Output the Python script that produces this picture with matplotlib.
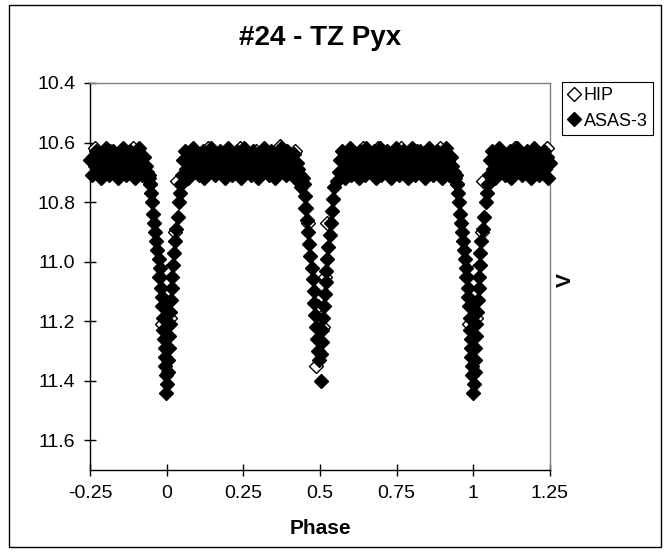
import numpy as np
import matplotlib.pyplot as plt
from matplotlib.patches import Rectangle

# TZ Pyx light curve, phases kept in 0..1, shown again at -0.25..0 and 1..1.25

hip_phase = [0.060, 0.085, 0.110, 0.135, 0.160, 0.190, 0.215, 0.240, 0.265, 0.290,
             0.320, 0.345, 0.370, 0.395, 0.420, 0.436, 0.565, 0.575, 0.590, 0.615,
             0.640, 0.665, 0.690, 0.715, 0.740, 0.765, 0.790, 0.815, 0.840, 0.865,
             0.890, 0.915, 0.935, 0.033, 0.028, 0.001, 0.010, 0.986, 0.975, 0.452,
             0.461, 0.523, 0.487, 0.494, 0.509, 0.515]
hip_mag = [10.66, 10.63, 10.69, 10.62, 10.67, 10.64, 10.70, 10.62, 10.66, 10.63,
           10.68, 10.64, 10.61, 10.67, 10.63, 10.71, 10.66, 10.71, 10.63, 10.69,
           10.62, 10.67, 10.62, 10.65, 10.69, 10.62, 10.66, 10.63, 10.70, 10.64,
           10.62, 10.67, 10.72, 10.73, 10.90, 11.03, 11.19, 11.21, 11.05, 10.82,
           10.87, 10.87, 11.35, 11.15, 11.22, 11.05]

# out of eclipse
asas_phase = [0.050, 0.054, 0.061, 0.064, 0.070, 0.073, 0.079, 0.085, 0.088, 0.094,
              0.099, 0.104, 0.108, 0.114, 0.119, 0.123, 0.129, 0.134, 0.138, 0.144,
              0.149, 0.153, 0.159, 0.164, 0.170, 0.174, 0.179, 0.183, 0.189, 0.194,
              0.199, 0.205, 0.209, 0.214, 0.218, 0.224, 0.229, 0.235, 0.239, 0.244,
              0.249, 0.253, 0.259, 0.264, 0.270, 0.274, 0.279, 0.283, 0.289, 0.294,
              0.299, 0.305, 0.309, 0.314, 0.318, 0.324, 0.329, 0.335, 0.339, 0.344,
              0.349, 0.353, 0.359, 0.364, 0.370, 0.374, 0.379, 0.383, 0.389, 0.394,
              0.399, 0.405, 0.409, 0.414, 0.418, 0.424, 0.429, 0.434, 0.439, 0.444,
              0.556, 0.561, 0.567, 0.571, 0.576, 0.580, 0.586, 0.591, 0.597, 0.601,
              0.606, 0.610, 0.616, 0.621, 0.627, 0.631, 0.636, 0.640, 0.646, 0.651,
              0.657, 0.661, 0.666, 0.670, 0.676, 0.681, 0.687, 0.691, 0.696, 0.700,
              0.706, 0.711, 0.717, 0.721, 0.726, 0.730, 0.736, 0.741, 0.747, 0.751,
              0.756, 0.760, 0.766, 0.771, 0.777, 0.781, 0.786, 0.790, 0.796, 0.801,
              0.807, 0.811, 0.816, 0.820, 0.826, 0.831, 0.837, 0.841, 0.846, 0.850,
              0.856, 0.861, 0.867, 0.871, 0.876, 0.880, 0.886, 0.891, 0.897, 0.901,
              0.906, 0.911, 0.916, 0.921, 0.926, 0.931, 0.936, 0.941, 0.944, 0.947,
              # primary eclipse, ingress
              0.946, 0.949, 0.952, 0.956, 0.959, 0.962, 0.966, 0.970, 0.974, 0.977,
              0.979, 0.982, 0.984, 0.986, 0.988, 0.989, 0.991, 0.993, 0.994, 0.996,
              0.997, 0.999,
              # primary eclipse, egress
              0.002, 0.004, 0.005, 0.007, 0.009, 0.010, 0.012, 0.015, 0.017, 0.019,
              0.021, 0.023, 0.026, 0.030, 0.036, 0.041, 0.044, 0.047,
              # secondary eclipse
              0.447, 0.450, 0.453, 0.457, 0.461, 0.465, 0.469, 0.473, 0.476, 0.479,
              0.482, 0.485, 0.488, 0.491, 0.494, 0.497, 0.502, 0.504, 0.506, 0.508,
              0.510, 0.513, 0.516, 0.518, 0.521, 0.524, 0.527, 0.531, 0.535, 0.539,
              0.543, 0.547]
asas_mag = [10.71, 10.66, 10.63, 10.69, 10.72, 10.65, 10.68, 10.62, 10.70, 10.67,
            10.64, 10.71, 10.66, 10.69, 10.63, 10.72, 10.67, 10.65, 10.70, 10.62,
            10.68, 10.64, 10.71, 10.66, 10.69, 10.63, 10.70, 10.65, 10.72, 10.67,
            10.62, 10.68, 10.64, 10.71, 10.66, 10.70, 10.63, 10.69, 10.65, 10.72,
            10.67, 10.62, 10.70, 10.64, 10.68, 10.71, 10.65, 10.63, 10.69, 10.66,
            10.72, 10.64, 10.67, 10.70, 10.62, 10.68, 10.65, 10.71, 10.63, 10.69,
            10.66, 10.72, 10.64, 10.70, 10.67, 10.62, 10.69, 10.65, 10.71, 10.63,
            10.68, 10.66, 10.70, 10.64, 10.72, 10.67, 10.69, 10.73, 10.75, 10.72,
            10.73, 10.70, 10.66, 10.63, 10.69, 10.72, 10.65, 10.68, 10.62, 10.71,
            10.67, 10.64, 10.70, 10.66, 10.72, 10.63, 10.69, 10.65, 10.71, 10.62,
            10.68, 10.64, 10.70, 10.67, 10.63, 10.72, 10.66, 10.69, 10.62, 10.71,
            10.65, 10.68, 10.63, 10.70, 10.67, 10.72, 10.64, 10.69, 10.62, 10.66,
            10.71, 10.65, 10.68, 10.63, 10.70, 10.67, 10.72, 10.64, 10.69, 10.62,
            10.66, 10.71, 10.65, 10.68, 10.63, 10.70, 10.67, 10.72, 10.64, 10.69,
            10.62, 10.66, 10.71, 10.65, 10.68, 10.63, 10.70, 10.67, 10.72, 10.64,
            10.69, 10.62, 10.66, 10.71, 10.65, 10.68, 10.70, 10.72, 10.71, 10.74,
            10.74, 10.77, 10.80, 10.84, 10.87, 10.90, 10.93, 10.96, 10.99, 11.02,
            11.05, 11.09, 11.12, 11.15, 11.19, 11.23, 11.26, 11.29, 11.32, 11.35,
            11.38, 11.44,
            11.41, 11.37, 11.33, 11.29, 11.25, 11.21, 11.17, 11.13, 11.09, 11.05,
            11.01, 10.97, 10.93, 10.89, 10.85, 10.80, 10.77, 10.74,
            10.74, 10.78, 10.82, 10.86, 10.90, 10.94, 10.98, 11.02, 11.06, 11.10,
            11.14, 11.18, 11.22, 11.26, 11.30, 11.33, 11.40, 11.31, 11.27, 11.23,
            11.19, 11.15, 11.11, 11.07, 11.03, 10.99, 10.95, 10.91, 10.87, 10.83,
            10.79, 10.75]

x_ticks = [-0.25, 0, 0.25, 0.5, 0.75, 1, 1.25]
x_labels = ['-0.25', '0', '0.25', '0.5', '0.75', '1', '1.25']
y_ticks = [10.4, 10.6, 10.8, 11.0, 11.2, 11.4, 11.6]


def wrap(ph, mag):
    ph = np.asarray(ph)
    mag = np.asarray(mag)
    lo = ph > 0.75
    hi = ph < 0.25
    return (np.concatenate([ph, ph[lo] - 1, ph[hi] + 1]),
            np.concatenate([mag, mag[lo], mag[hi]]))


plt.rcParams['font.family'] = ['Liberation Sans', 'DejaVu Sans']

W, H = 669, 552
fig = plt.figure(figsize=(W / 100, H / 100), dpi=100)
ax = fig.add_axes([90 / W, 1 - 470 / H, 460 / W, 387 / H])

hx, hy = wrap(hip_phase, hip_mag)
axx, axy = wrap(asas_phase, asas_mag)
ax.plot(hx, hy, 'D', ms=7.4, mfc='white', mec='black', mew=1.0,
        label='HIP', clip_on=False, zorder=3)
ax.plot(axx, axy, 'D', ms=7.4, mfc='black', mec='black', mew=1.0,
        label='ASAS-3', clip_on=False, zorder=4)

ax.set_xlim(-0.25, 1.25)
ax.set_ylim(11.7, 10.4)
ax.set_xticks(x_ticks)
ax.set_xticklabels(x_labels)
ax.set_yticks(y_ticks)
ax.set_yticklabels(['%.1f' % v for v in y_ticks])
ax.tick_params(direction='inout', length=9, width=1, labelsize=14,
               colors='black', pad=6)

for s in ['top', 'right']:
    ax.spines[s].set_color('#808080')
    ax.spines[s].set_linewidth(1)
for s in ['left', 'bottom']:
    ax.spines[s].set_color('black')
    ax.spines[s].set_linewidth(1)

fig.text(320 / W, 1 - 38 / H, '#24 - TZ Pyx', ha='center', va='center',
         fontsize=20, fontweight='bold')
fig.text(320 / W, 1 - 528 / H, 'Phase', ha='center', va='center',
         fontsize=15, fontweight='bold')
fig.text(565 / W, 1 - 280 / H, 'V', ha='center', va='center', rotation=90,
         fontsize=15, fontweight='bold')

leg = fig.legend(loc='upper left', bbox_to_anchor=(562 / W, 1 - 82 / H),
                 frameon=True, fancybox=False, edgecolor='black', framealpha=1,
                 fontsize=13, handlelength=0.7, handletextpad=0.2,
                 borderpad=0.3, labelspacing=0.45, borderaxespad=0)
leg.get_frame().set_linewidth(0.8)

fig.add_artist(Rectangle((9 / W, 1 - 547 / H), 652 / W, 542 / H, fill=False,
                         ec='black', lw=1, transform=fig.transFigure))

fig.savefig('out.png', dpi=100)
